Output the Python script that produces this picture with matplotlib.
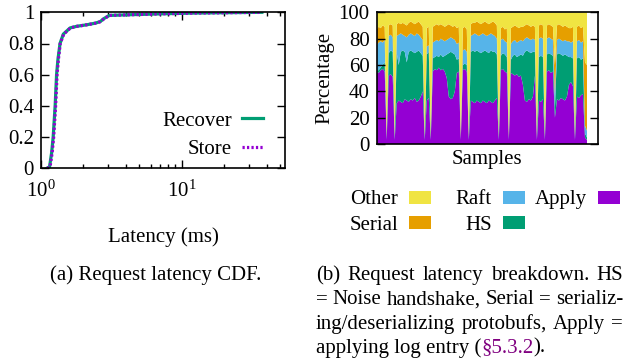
import numpy as np
import matplotlib
matplotlib.use("Agg")
import matplotlib.pyplot as plt
from matplotlib.patches import Rectangle
from matplotlib.ticker import FixedLocator, NullFormatter

# two panels from the paper: latency CDF (a) and latency breakdown (b)

plt.rcParams['font.family'] = ['Liberation Serif', 'DejaVu Serif']
plt.rcParams['mathtext.fontset'] = 'custom'
plt.rcParams['mathtext.rm'] = 'Liberation Serif'
plt.rcParams['mathtext.it'] = 'Liberation Serif:italic'

W, H = 627, 362
FS = 15

# (a) CDF
cdf = [0, 0.01, 0.1, 0.2, 0.4, 0.6, 0.7, 0.8, 0.86, 0.9, 0.91, 0.92, 0.93, 0.94, 0.96, 0.98, 0.985, 0.99, 0.995, 1.0]
recover_ms = [1.10, 1.15, 1.19, 1.22, 1.26, 1.29, 1.32, 1.365, 1.44, 1.61, 1.79, 2.11, 2.42, 2.63, 2.80, 3.06, 4.5, 7.0, 12, 37]
store_ms = [1.11, 1.16, 1.20, 1.23, 1.27, 1.30, 1.33, 1.37, 1.45, 1.62, 1.80, 2.12, 2.43, 2.64, 2.81, 3.07, 4.6, 7.1, 12.2, 37]

# (b) breakdown per sample, percent
apply = [55, 54, 56, 57, 55, 3, 52, 53, 51, 3,
         31, 33, 32, 31, 34, 33, 32, 34, 33, 35,
         32, 33, 36, 40, 3, 33, 35, 3, 55, 57,
         56, 58, 56, 57, 55, 50, 36, 34, 35, 40,
         54, 55, 3, 56, 57, 55, 3, 33, 32, 31,
         33, 32, 31, 33, 32, 31, 33, 32, 31, 33,
         35, 3, 56, 57, 55, 54, 3, 54, 53, 52,
         53, 51, 52, 45, 33, 32, 34, 33, 36, 52,
         3, 33, 32, 34, 3, 55, 56, 54, 55, 20,
         34, 33, 35, 34, 33, 36, 45, 47, 44, 3,
         36, 35, 37, 38, 5, 3]
hs = [1, 2, 2, 3, 7, 1, 17, 18, 19, 1,
      38, 27, 38, 40, 36, 29, 38, 37, 37, 34,
      38, 38, 33, 27, 1, 35, 35, 1, 10, 9,
      11, 8, 12, 9, 12, 18, 33, 36, 34, 28,
      10, 10, 1, 4, 4, 5, 1, 37, 39, 39,
      38, 38, 38, 37, 39, 39, 36, 39, 39, 37,
      33, 1, 11, 12, 13, 12, 1, 10, 14, 16,
      13, 16, 16, 22, 37, 39, 36, 36, 34, 18,
      1, 33, 35, 32, 1, 13, 13, 14, 12, 8,
      34, 36, 33, 33, 35, 31, 21, 19, 21, 1,
      29, 31, 27, 27, 3, 2]
raft = [19, 21, 20, 17, 17, 1, 13, 12, 11, 1,
        13, 23, 14, 12, 12, 19, 13, 13, 13, 13,
        14, 12, 12, 12, 1, 6, 5, 1, 12, 12,
        12, 12, 12, 13, 11, 11, 11, 11, 11, 11,
        12, 12, 1, 11, 11, 10, 1, 12, 12, 14,
        12, 12, 14, 14, 12, 12, 14, 13, 13, 12,
        12, 1, 12, 11, 10, 11, 1, 12, 11, 11,
        11, 11, 11, 11, 10, 10, 10, 10, 10, 9,
        1, 14, 14, 14, 1, 12, 12, 12, 12, 10,
        11, 11, 11, 11, 11, 11, 12, 11, 13, 1,
        13, 13, 13, 13, 6, 5]
serial = [12, 12, 10, 13, 10, 2, 8, 8, 9, 2,
          9, 9, 7, 9, 9, 9, 9, 9, 9, 9,
          8, 10, 10, 10, 2, 14, 14, 2, 12, 12,
          12, 12, 11, 11, 11, 11, 11, 9, 9, 11,
          12, 12, 2, 17, 17, 17, 2, 9, 9, 8,
          10, 10, 8, 8, 10, 10, 8, 8, 10, 10,
          10, 2, 9, 9, 9, 11, 2, 12, 11, 11,
          12, 10, 10, 11, 10, 10, 10, 10, 10, 10,
          2, 10, 10, 10, 2, 10, 10, 10, 10, 22,
          11, 11, 11, 11, 11, 11, 10, 11, 11, 2,
          11, 11, 11, 11, 48, 50]
other = [13, 11, 12, 10, 11, 93, 10, 9, 10, 93,
         9, 8, 9, 8, 9, 10, 8, 7, 8, 9,
         8, 7, 9, 11, 93, 12, 11, 93, 11, 10,
         9, 10, 9, 10, 11, 10, 9, 10, 11, 10,
         12, 11, 93, 12, 11, 13, 93, 9, 8, 8,
         7, 8, 9, 8, 7, 8, 9, 8, 7, 8,
         10, 93, 12, 11, 13, 12, 93, 12, 11, 10,
         11, 12, 11, 11, 10, 9, 10, 11, 10, 11,
         93, 10, 9, 10, 93, 10, 9, 10, 11, 40,
         10, 9, 10, 11, 10, 11, 12, 12, 11, 93,
         11, 10, 12, 11, 38, 40]

layer_names = ['Apply', 'HS', 'Raft', 'Serial', 'Other']
layer_colors = ['#9400d3', '#009e73', '#56b4e9', '#e69f00', '#f0e442']

fig = plt.figure(figsize=(W / 100, H / 100), dpi=100)


def px_axes(l, t, r, b):
    return fig.add_axes([l / W, 1 - b / H, (r - l) / W, (b - t) / H])


# ---- (a) CDF
ax1 = px_axes(41, 12.3, 285, 168.3)
ax1.plot(recover_ms, cdf, color='#009e73', lw=2.3, label='Recover')
ax1.plot(store_ms, cdf, color='#9400d3', lw=2.3, ls=(0, (0.7, 0.7)), label='Store')
ax1.set_xscale('log')
ax1.set_xlim(1, 54)
ax1.set_ylim(0, 1)
ax1.set_xticks([1, 10])
ax1.set_xticklabels(['$10^{0}$', '$10^{1}$'])
ax1.xaxis.set_minor_locator(FixedLocator([2, 3, 4, 5, 6, 7, 8, 9, 20, 30, 40, 50]))
ax1.xaxis.set_minor_formatter(NullFormatter())
ax1.set_yticks([0, 0.2, 0.4, 0.6, 0.8, 1])
ax1.set_yticklabels(['0', '0.2', '0.4', '0.6', '0.8', '1'])
ax1.tick_params(which='both', direction='in', top=True, right=True, labelsize=FS, width=1)
ax1.tick_params(which='major', length=6)
ax1.tick_params(axis='y', pad=5)
ax1.tick_params(axis='x', which='major', pad=9)
ax1.tick_params(which='minor', length=3)
ax1.set_xlabel('Latency (ms)', fontsize=FS, labelpad=18)
for s in ax1.spines.values():
    s.set_linewidth(1.2)
ax1.legend(loc='lower right', bbox_to_anchor=(0.91, 0.06), frameon=False, markerfirst=False,
           fontsize=FS, handlelength=1.0, handletextpad=0.5, labelspacing=0.42,
           borderaxespad=0, borderpad=0)

# ---- (b) stacked breakdown
ax2 = px_axes(376.7, 12.3, 598, 144)
x = np.arange(len(apply))
ax2.stackplot(x, apply, hs, raft, serial, other, colors=layer_colors, lw=0)
ax2.set_xlim(0, 110.5)
ax2.set_ylim(0, 100)
ax2.set_xticks([])
ax2.set_yticks(range(0, 101, 20))
ax2.tick_params(direction='in', right=True, labelsize=FS, length=6, width=1, pad=5)
ax2.set_ylabel('Percentage', fontsize=FS, labelpad=3)
ax2.set_xlabel('Samples', fontsize=FS, labelpad=4)
for s in ax2.spines.values():
    s.set_linewidth(1.2)

# legend under panel (b): label text right-aligned (baseline), swatch after it
legend_slots = {'Other': (398, 204), 'Serial': (398, 229.5), 'Raft': (492, 204),
                'HS': (492, 229.5), 'Apply': (587, 204)}
for name, col in zip(layer_names, layer_colors):
    tx, ty = legend_slots[name]
    fig.text(tx / W, 1 - ty / H, name, ha='right', va='baseline', fontsize=FS)
    fig.patches.append(Rectangle(((tx + 10.5) / W, 1 - (ty - 0.5) / H), 22 / W, 12.6 / H,
                                 facecolor=col, edgecolor='none', transform=fig.transFigure))

# ---- captions
fig.text(155.5 / W, 1 - 280 / H, '(a) Request latency CDF.', ha='center', va='baseline', fontsize=FS)

renderer = fig.canvas.get_renderer()


def justified(line, y, x0=316, x1=623):
    words = line.split(' ')
    texts = [fig.text(0, 1 - y / H, w, va='baseline', fontsize=FS) for w in words]
    widths = [t.get_window_extent(renderer).width for t in texts]
    gap = (x1 - x0 - sum(widths)) / (len(words) - 1)
    pos = x0
    for t, w in zip(texts, widths):
        t.set_x(pos / W)
        pos += w + gap


justified('(b) Request latency breakdown. HS', 280)
justified('= Noise handshake, Serial = serializ-', 304.5)
justified('ing/deserializing protobufs, Apply =', 328.5)

pos = 316
for part, col in [('applying log entry (', 'black'), ('\u00a75.3.2', '#800080'), (').', 'black')]:
    t = fig.text(pos / W, 1 - 352.5 / H, part, va='baseline', fontsize=FS, color=col)
    pos += t.get_window_extent(renderer).width

fig.savefig('out.png', dpi=100)
